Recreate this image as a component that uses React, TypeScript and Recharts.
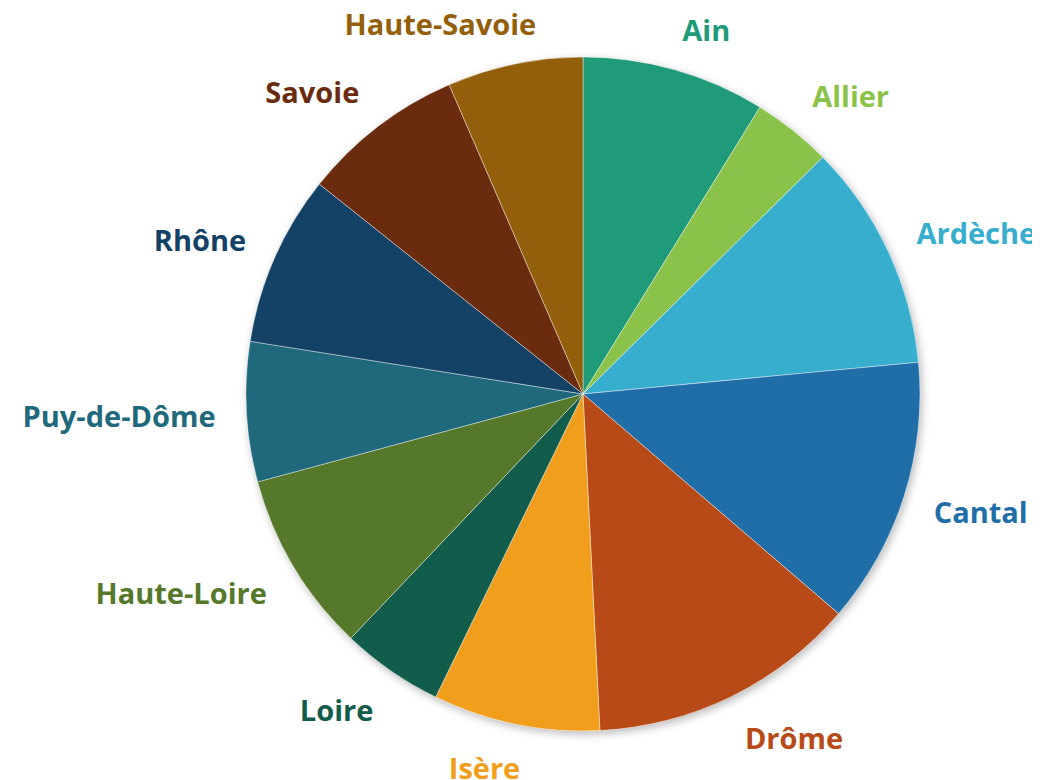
import React from 'react';
import { PieChart, Pie, Cell } from 'recharts';

const departements = [
  'Ain',
  'Allier',
  'Ardèche',
  'Cantal',
  'Drôme',
  'Isère',
  'Loire',
  'Haute-Loire',
  'Puy-de-Dôme',
  'Rhône',
  'Savoie',
  'Haute-Savoie',
];

const parts = [8.8, 3.8, 10.9, 12.8, 12.9, 8.0, 4.9, 8.7, 6.7, 8.2, 7.8, 6.5];

const couleurs = [
  '#1f9b79',
  '#8bc34a',
  '#37aecd',
  '#1f6ea8',
  '#b84a18',
  '#f09e1c',
  '#115c4a',
  '#55782a',
  '#20697c',
  '#134266',
  '#6b2b0e',
  '#945f0b',
];

const chartData = departements.map((name, i) => ({ name, value: parts[i] }));

const FONT = '"Open Sans", sans-serif';
const FONT_SIZE = 29;

let ctx: CanvasRenderingContext2D | null = null;
const measure = (text: string) => {
  if (!ctx) ctx = document.createElement('canvas').getContext('2d');
  if (!ctx) return text.length * FONT_SIZE * 0.6;
  ctx.font = `700 ${FONT_SIZE}px ${FONT}`;
  return ctx.measureText(text).width;
};

const clamp = (v: number) => Math.max(-1, Math.min(1, v));

// label box pushed outward from the mid angle, Excel "outside end" style
const renderLabel = ({ cx, cy, midAngle, outerRadius, index }: any) => {
  const RAD = Math.PI / 180;
  const r = outerRadius + 31;
  const ux = Math.cos(-midAngle * RAD);
  const uy = Math.sin(-midAngle * RAD);
  const name = departements[index];
  const w = measure(name);
  const h = FONT_SIZE * 0.8;
  const x = cx + r * ux + (w / 2) * clamp(ux * 3.5);
  const y = cy + r * uy + (h / 2) * clamp(uy * 1.5) + 1;
  return (
    <text
      x={x}
      y={y}
      fill={couleurs[index]}
      textAnchor="middle"
      dominantBaseline="central"
      fontFamily={FONT}
      fontSize={FONT_SIZE}
      fontWeight={700}
    >
      {name}
    </text>
  );
};

const App: React.FC = () => {
  return (
    <div style={{ width: 1032, height: 772 }}>
      <PieChart
        width={1032}
        height={772}
        margin={{ top: 0, right: 0, bottom: 0, left: 0 }}
        style={{ overflow: 'visible' }}
      >
        <Pie
          data={[{ name: 'fond', value: 1 }]}
          dataKey="value"
          cx={575}
          cy={386}
          outerRadius={337}
          startAngle={90}
          endAngle={-270}
          stroke="none"
          isAnimationActive={false}
        >
          <Cell fill="#ffffff" style={{ filter: 'drop-shadow(2px 3px 4px rgba(0,0,0,0.28))' }} />
        </Pie>
        <Pie
          data={chartData}
          dataKey="value"
          nameKey="name"
          cx={575}
          cy={386}
          outerRadius={337}
          startAngle={90}
          endAngle={-270}
          stroke="#ffffff"
          strokeWidth={0.4}
          labelLine={false}
          label={renderLabel}
          isAnimationActive={false}
        >
          {chartData.map((entry, index) => (
            <Cell key={`cell-${index}`} fill={couleurs[index]} />
          ))}
        </Pie>
      </PieChart>
    </div>
  );
};

export default App;
